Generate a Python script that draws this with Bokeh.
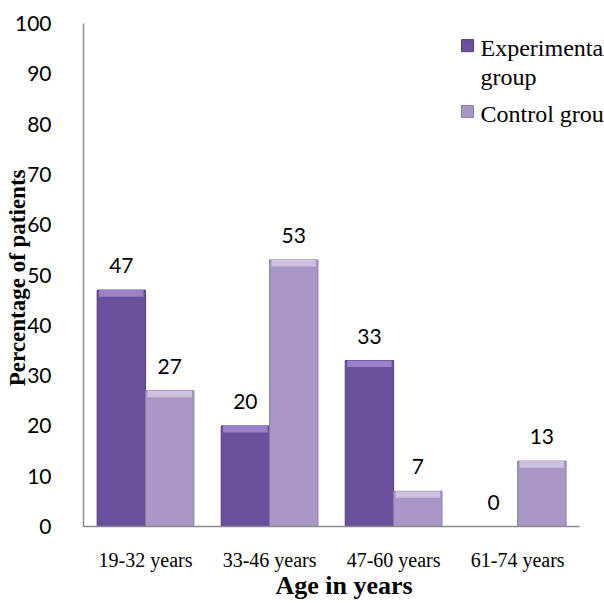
from bokeh.core.properties import value
from bokeh.embed import file_html
from bokeh.models import (BoxAnnotation, ColumnDataSource, FixedTicker, Label,
                          LabelSet, Range1d)
from bokeh.plotting import figure
from bokeh.resources import INLINE

# ---- data -------------------------------------------------------------
age_groups = ["19-32 years", "33-46 years", "47-60 years", "61-74 years"]
experimental = [47, 20, 33, 0]
control = [27, 53, 7, 13]
y_ticks = [0, 10, 20, 30, 40, 50, 60, 70, 80, 90, 100]

# ---- styling ----------------------------------------------------------
EXP_FILL, EXP_EDGE, EXP_CAP = "#6b4e9d", "#553d82", "#9a82c8"
CTL_FILL, CTL_EDGE, CTL_CAP = "#a897c5", "#8d7caa", "#cdc1e0"
BAR_W = 0.39
OFFSET = 0.195
CAP_H = 1.3  # bevel band at the top of each bar, in percentage points

# one unit per age group, group centred at i + 0.5
centers = [i + 0.5 for i in range(len(age_groups))]

source = ColumnDataSource(dict(
    x_exp=[c - OFFSET for c in centers],
    x_ctl=[c + OFFSET for c in centers],
    exp=experimental,
    ctl=control,
    exp_cap=[max(v - CAP_H, 0) for v in experimental],
    ctl_cap=[max(v - CAP_H, 0) for v in control],
    exp_txt=[str(v) for v in experimental],
    ctl_txt=[str(v) for v in control],
))

p = figure(
    x_range=Range1d(0, len(age_groups) + 0.2), y_range=Range1d(0, 100),
    width=604, height=603, output_backend="svg", toolbar_location=None,
    min_border_left=83, min_border_top=23, min_border_right=0,
    min_border_bottom=77,
)
p.outline_line_color = None
p.grid.grid_line_color = None
p.background_fill_color = "white"
p.border_fill_color = "white"

# bars
p.vbar(x="x_exp", top="exp", bottom=0, width=BAR_W, source=source,
       fill_color=EXP_FILL, line_color=EXP_EDGE, line_width=1)
p.vbar(x="x_ctl", top="ctl", bottom=0, width=BAR_W, source=source,
       fill_color=CTL_FILL, line_color=CTL_EDGE, line_width=1)
# lighter bevel caps
p.vbar(x="x_exp", top="exp", bottom="exp_cap", width=BAR_W * 0.92,
       source=source, fill_color=EXP_CAP, line_color=None)
p.vbar(x="x_ctl", top="ctl", bottom="ctl_cap", width=BAR_W * 0.92,
       source=source, fill_color=CTL_CAP, line_color=None)

# value labels
label_style = dict(text_font=value("Lato"), text_font_size="21px",
                   text_color="black", text_align="center",
                   text_baseline="alphabetic", y_offset=17, source=source)
p.add_layout(LabelSet(x="x_exp", y="exp", text="exp_txt", **label_style))
p.add_layout(LabelSet(x="x_ctl", y="ctl", text="ctl_txt", **label_style))

# x axis: category names at the group centres
p.xaxis.ticker = FixedTicker(ticks=centers)
p.xaxis.major_label_overrides = dict(zip(centers, age_groups))
p.xaxis.bounds = (0, len(age_groups))
p.xaxis.axis_line_color = "#8a8a8a"
p.xaxis.axis_line_width = 1.5
p.xaxis.major_tick_line_color = None
p.xaxis.minor_tick_line_color = None
p.xaxis.major_label_text_font = "Liberation Serif"
p.xaxis.major_label_text_font_size = "20px"
p.xaxis.major_label_text_color = "black"
p.xaxis.major_label_standoff = 16
p.xaxis.axis_label = "Age in years"
p.xaxis.axis_label_text_font = "Liberation Serif"
p.xaxis.axis_label_text_font_style = "bold"
p.xaxis.axis_label_text_font_size = "26px"
p.xaxis.axis_label_text_line_height = 0.75
p.xaxis.axis_label_text_color = "black"
p.xaxis.axis_label_standoff = -3

# y axis
p.yaxis.ticker = y_ticks
p.yaxis.axis_line_color = "#8a8a8a"
p.yaxis.axis_line_width = 1.5
p.yaxis.major_tick_line_color = None
p.yaxis.minor_tick_line_color = None
p.yaxis.major_label_text_font = "Lato"
p.yaxis.major_label_text_font_size = "21px"
p.yaxis.major_label_text_color = "black"
p.yaxis.major_label_standoff = 26
p.yaxis.axis_label = "Percentage of  patients"
p.yaxis.axis_label_text_font = "Liberation Serif"
p.yaxis.axis_label_text_font_style = "bold"
p.yaxis.axis_label_text_font_size = "23px"
p.yaxis.axis_label_text_color = "black"
p.yaxis.axis_label_standoff = -18

# legend
legend_font = dict(text_font="Liberation Serif", text_font_size="24px",
                   text_color="black", text_baseline="middle",
                   x_units="screen", y_units="data")
p.add_layout(Label(x=397, y=95.2, text="Experimental", **legend_font))
p.add_layout(Label(x=397, y=89.3, text="group", **legend_font))
p.add_layout(Label(x=397, y=82.1, text="Control group", **legend_font))
p.add_layout(BoxAnnotation(left=378, right=390, left_units="screen",
                           right_units="screen", bottom=94.4, top=96.8,
                           fill_color=EXP_FILL, fill_alpha=1,
                           line_color=EXP_EDGE, line_alpha=1))
p.add_layout(BoxAnnotation(left=378, right=390, left_units="screen",
                           right_units="screen", bottom=81.3, top=83.7,
                           fill_color=CTL_FILL, fill_alpha=1,
                           line_color=CTL_EDGE, line_alpha=1))

open("out.html", "w").write(file_html(p, INLINE))
